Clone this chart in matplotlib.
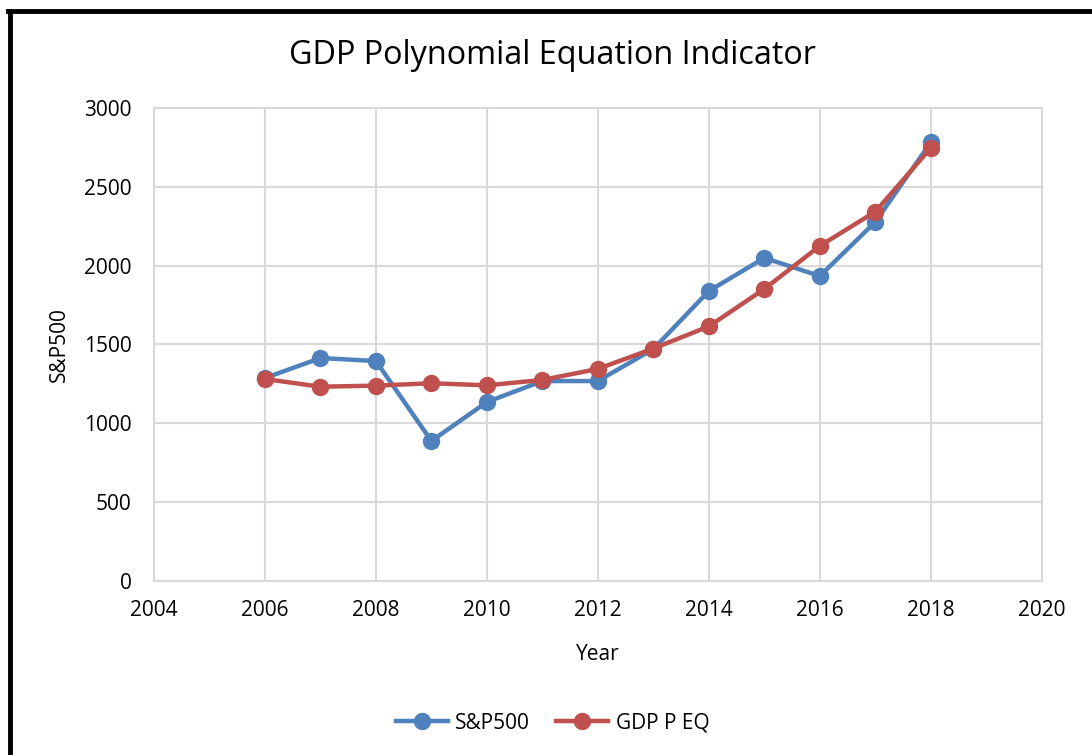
import matplotlib.pyplot as plt
from matplotlib.lines import Line2D

plt.rcParams['font.family'] = ['Open Sans', 'DejaVu Sans']

# values
years = [2006, 2007, 2008, 2009, 2010, 2011, 2012, 2013, 2014, 2015, 2016, 2017, 2018]
sp500 = [1287, 1414, 1395, 888, 1135, 1268, 1268, 1471, 1839, 2049, 1934, 2277, 2782]
gdp_p_eq = [1281, 1232, 1239, 1254, 1241, 1275, 1345, 1474, 1615, 1852, 2125, 2342, 2746]

x_ticks = [2004, 2006, 2008, 2010, 2012, 2014, 2016, 2018, 2020]
y_ticks = [0, 500, 1000, 1500, 2000, 2500, 3000]

blue = '#4F81BD'
red = '#C0504D'
grid_col = '#D9D9D9'

fig = plt.figure(figsize=(10.92, 7.55), dpi=100)
ax = fig.add_axes([0.141, 0.2305, 0.813, 0.6265])

ax.plot(years, sp500, color=blue, lw=3.2, marker='o', ms=11.5, label='S&P500', zorder=3)
ax.plot(years, gdp_p_eq, color=red, lw=3.2, marker='o', ms=11.5, label='GDP P EQ', zorder=4)

ax.set_xlim(2004, 2020)
ax.set_ylim(0, 3000)
ax.set_xticks(x_ticks)
ax.set_yticks(y_ticks)
ax.tick_params(axis='x', length=0, labelsize=15, pad=14)
ax.tick_params(axis='y', length=0, labelsize=15, pad=16)
ax.grid(True, color=grid_col, lw=1.5)
ax.set_axisbelow(True)
for s in ax.spines.values():
    s.set_color(grid_col)
    s.set_linewidth(1.5)

ax.set_xlabel('Year', fontsize=15, labelpad=16)
ax.set_ylabel('S&P500', fontsize=15, labelpad=10)
fig.text(0.506, 0.927, 'GDP Polynomial Equation Indicator', ha='center', va='center', fontsize=23.3)

fig.legend(loc='center', bbox_to_anchor=(0.506, 0.042), ncol=2, frameon=False,
           fontsize=15, handlelength=2.5, columnspacing=1.25, handletextpad=0.35)

# black frame on left and top
fig.add_artist(Line2D([0.0092, 0.0092], [0, 0.986], color='black', lw=3.5, transform=fig.transFigure))
fig.add_artist(Line2D([0.0075, 1.0], [0.986, 0.986], color='black', lw=3.5, transform=fig.transFigure))

fig.savefig('out.png', dpi=100)
